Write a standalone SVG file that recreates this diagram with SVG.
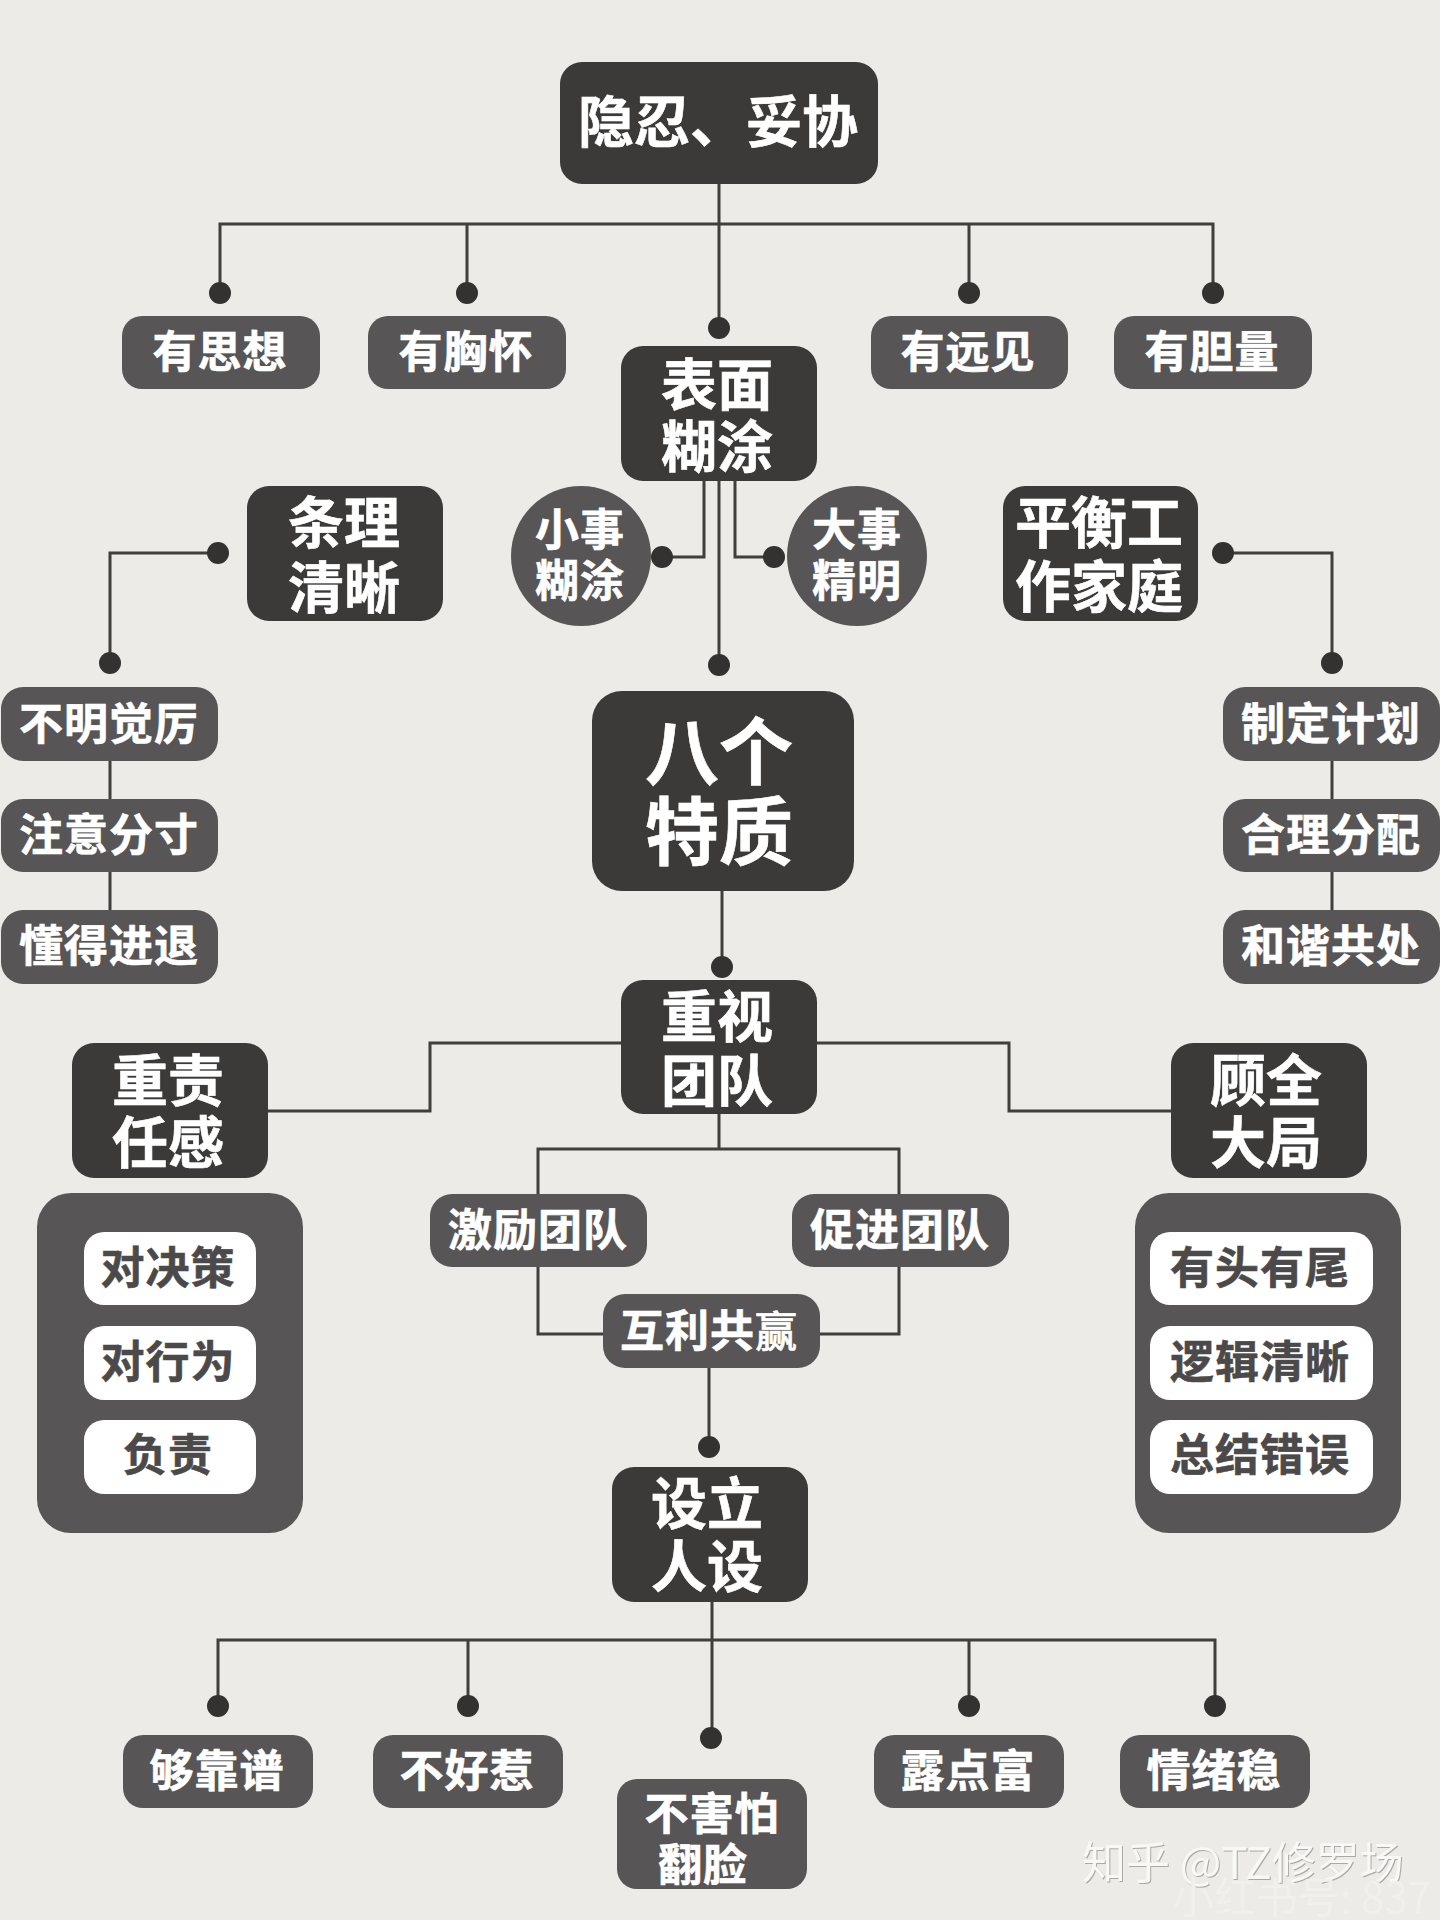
<svg xmlns="http://www.w3.org/2000/svg" width="1440" height="1920" viewBox="0 0 1440 1920">
<style>
text{font-family:"Noto Sans CJK SC","Noto Sans CJK JP",sans-serif;font-weight:700;text-anchor:middle;dominant-baseline:central;fill:#fff;stroke:#fff;stroke-width:.6px;transform:translateY(1.5px)}
.d{fill:#3b3a39}.m{fill:#575556}.w{fill:#fff}
.s{font-size:44px;letter-spacing:1px}.b{font-size:56px}.t{font-size:56px}.h{font-size:74px}
text.k{fill:#4b4949;stroke:#4b4949}
#connectors path{fill:none;stroke:#403f3e;stroke-width:3}
#connectors circle{fill:#333231}
text.wm{font-weight:400;font-size:44px;fill:#f8f8f6;stroke:none;text-anchor:start;filter:drop-shadow(1.5px 1.5px 0 #a9a9a6)}
text.wm2{font-weight:400;font-size:42px;fill:#f0f0ec;stroke:none;text-anchor:start}
</style>
<rect width="1440" height="1920" fill="#ecebe8"/>
<g id="connectors">
<path d="M719 184V328M220 293V224H1213V293M467 224V293M969 224V293"/>
<path d="M704 481V557H662M735 481V557H774M719 481V665"/>
<path d="M218 553H110V663M110 760V910"/>
<path d="M1223 553H1332V663M1332 760V910"/>
<path d="M722 891V967"/>
<path d="M621 1043H430V1111H268M817 1043H1009V1111H1171"/>
<path d="M719 1114V1149M538 1194V1149H899V1194M538 1267V1334H603M899 1267V1334H820M709 1368V1447"/>
<path d="M712 1602V1738M218 1706V1640H1215V1706M468 1640V1706M969 1640V1706"/>
<circle cx="220" cy="293" r="11"/><circle cx="467" cy="293" r="11"/><circle cx="719" cy="328" r="11"/><circle cx="969" cy="293" r="11"/><circle cx="1213" cy="293" r="11"/>
<circle cx="218" cy="553" r="11"/><circle cx="110" cy="663" r="11"/><circle cx="662" cy="557" r="11"/><circle cx="774" cy="557" r="11"/><circle cx="719" cy="665" r="11"/><circle cx="1223" cy="553" r="11"/><circle cx="1332" cy="663" r="11"/>
<circle cx="722" cy="967" r="11"/><circle cx="709" cy="1447" r="11"/>
<circle cx="218" cy="1706" r="11"/><circle cx="468" cy="1706" r="11"/><circle cx="711" cy="1738" r="11"/><circle cx="969" cy="1706" r="11"/><circle cx="1215" cy="1706" r="11"/>
</g>
<g id="n-top"><rect class="d" x="560" y="62" width="318" height="122" rx="22"/><text class="t" x="718" y="116">隐忍、妥协</text></g>
<g id="n-sixiang"><rect class="m" x="122" y="316" width="198" height="73" rx="20"/><text class="s" x="220" y="347">有思想</text></g>
<g id="n-xionghuai"><rect class="m" x="368" y="316" width="198" height="73" rx="20"/><text class="s" x="466" y="347">有胸怀</text></g>
<g id="n-yuanjian"><rect class="m" x="871" y="316" width="197" height="73" rx="20"/><text class="s" x="968" y="347">有远见</text></g>
<g id="n-danliang"><rect class="m" x="1114" y="316" width="198" height="73" rx="20"/><text class="s" x="1212" y="347">有胆量</text></g>
<g id="n-biaomian"><rect class="d" x="621" y="346" width="196" height="135" rx="22"/><text class="b" x="717"><tspan x="717" y="378">表面</tspan><tspan x="717" y="440">糊涂</tspan></text></g>
<g id="n-xiaoshi"><circle class="m" cx="581" cy="556" r="70"/><text class="s"><tspan x="580" y="525">小事</tspan><tspan x="580" y="576">糊涂</tspan></text></g>
<g id="n-dashi"><circle class="m" cx="857" cy="556" r="70"/><text class="s"><tspan x="857" y="525">大事</tspan><tspan x="857" y="576">精明</tspan></text></g>
<g id="n-tiaoli"><rect class="d" x="247" y="486" width="196" height="135" rx="22"/><text class="b"><tspan x="344" y="516">条理</tspan><tspan x="344" y="581">清晰</tspan></text></g>
<g id="n-pingheng"><rect class="d" x="1003" y="486" width="195" height="135" rx="22"/><text class="b"><tspan x="1099" y="516">平衡工</tspan><tspan x="1099" y="580">作家庭</tspan></text></g>
<g id="n-l1"><rect class="m" x="1" y="687" width="217" height="74" rx="22"/><text class="s" x="109" y="719">不明觉厉</text></g>
<g id="n-l2"><rect class="m" x="1" y="799" width="217" height="73" rx="22"/><text class="s" x="109" y="830">注意分寸</text></g>
<g id="n-l3"><rect class="m" x="1" y="910" width="217" height="74" rx="22"/><text class="s" x="109" y="941">懂得进退</text></g>
<g id="n-r1"><rect class="m" x="1223" y="687" width="217" height="74" rx="22"/><text class="s" x="1331" y="719">制定计划</text></g>
<g id="n-r2"><rect class="m" x="1223" y="799" width="217" height="73" rx="22"/><text class="s" x="1331" y="830">合理分配</text></g>
<g id="n-r3"><rect class="m" x="1223" y="910" width="217" height="74" rx="22"/><text class="s" x="1331" y="941">和谐共处</text></g>
<g id="n-center"><rect class="d" x="592" y="691" width="262" height="200" rx="30"/><text class="h"><tspan x="719" y="744">八个</tspan><tspan x="719" y="824">特质</tspan></text></g>
<g id="n-team"><rect class="d" x="621" y="980" width="196" height="134" rx="22"/><text class="b"><tspan x="717" y="1010">重视</tspan><tspan x="717" y="1074">团队</tspan></text></g>
<g id="n-zeren"><rect class="d" x="72" y="1043" width="196" height="135" rx="22"/><text class="b"><tspan x="168" y="1074">重责</tspan><tspan x="168" y="1136">任感</tspan></text></g>
<g id="n-guquan"><rect class="d" x="1171" y="1043" width="196" height="135" rx="22"/><text class="b"><tspan x="1266" y="1074">顾全</tspan><tspan x="1266" y="1136">大局</tspan></text></g>
<g id="n-panel-l"><rect class="m" x="37" y="1193" width="266" height="340" rx="34"/>
<rect class="w" x="84" y="1232" width="172" height="73" rx="20"/><text class="s k" x="168" y="1263">对决策</text>
<rect class="w" x="84" y="1326" width="172" height="74" rx="20"/><text class="s k" x="168" y="1357">对行为</text>
<rect class="w" x="84" y="1420" width="172" height="74" rx="20"/><text class="s k" x="168" y="1450">负责</text></g>
<g id="n-panel-r"><rect class="m" x="1135" y="1193" width="266" height="340" rx="34"/>
<rect class="w" x="1150" y="1232" width="223" height="73" rx="20"/><text class="s k" x="1260" y="1263">有头有尾</text>
<rect class="w" x="1150" y="1326" width="223" height="74" rx="20"/><text class="s k" x="1260" y="1357">逻辑清晰</text>
<rect class="w" x="1150" y="1420" width="223" height="74" rx="20"/><text class="s k" x="1260" y="1450">总结错误</text></g>
<g id="n-jili"><rect class="m" x="430" y="1194" width="217" height="73" rx="22"/><text class="s" x="538" y="1225">激励团队</text></g>
<g id="n-cujin"><rect class="m" x="792" y="1194" width="217" height="73" rx="22"/><text class="s" x="900" y="1225">促进团队</text></g>
<g id="n-huli"><rect class="m" x="603" y="1294" width="217" height="74" rx="22"/><text class="s" x="709" y="1326">互利共<tspan font-size="42" font-weight="500">赢</tspan></text></g>
<g id="n-renshe"><rect class="d" x="612" y="1467" width="196" height="135" rx="22"/><text class="b"><tspan x="707" y="1497">设立</tspan><tspan x="707" y="1560">人设</tspan></text></g>
<g id="n-b1"><rect class="m" x="123" y="1735" width="190" height="73" rx="20"/><text class="s" x="217" y="1766">够靠谱</text></g>
<g id="n-b2"><rect class="m" x="373" y="1735" width="190" height="73" rx="20"/><text class="s" x="467" y="1766">不好惹</text></g>
<g id="n-b3"><rect class="m" x="617" y="1779" width="190" height="110" rx="20"/><text class="s"><tspan x="712" y="1809">不害怕</tspan><tspan x="703" y="1860">翻脸</tspan></text></g>
<g id="n-b4"><rect class="m" x="874" y="1735" width="190" height="73" rx="20"/><text class="s" x="968" y="1766">露点富</text></g>
<g id="n-b5"><rect class="m" x="1120" y="1735" width="190" height="73" rx="20"/><text class="s" x="1214" y="1766">情绪稳</text></g>
<text class="wm" x="1082" y="1858">知乎 @TZ修罗场</text>
<text class="wm2" x="1172" y="1893">小红书号: 837</text>
</svg>
